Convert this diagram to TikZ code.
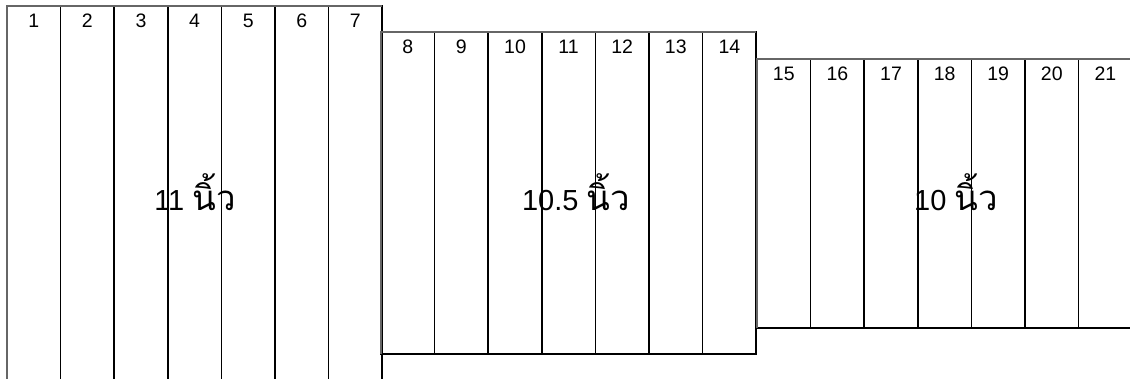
\documentclass[tikz,border=0pt]{standalone}
\usepackage{fontspec}
\setmainfont{Liberation Sans}
\newfontfamily\thaifont[Script=Thai,Scale=1.2]{Loma}
\usetikzlibrary{positioning}

\tikzset{
  strip/.style={draw=black, line width=1.7pt},
  outline/.style={draw=black!60, line width=1.9pt},
  numlabel/.style={font=\fontsize{19.5}{22}\selectfont, inner sep=0pt},
  sizelabel/.style={font=\fontsize{29}{32}\selectfont, inner sep=0pt}
}

\begin{document}
\begin{tikzpicture}[x=1pt,y=-1pt]
\def\w{53.6}
\useasboundingbox (0,0) rectangle (1130,378);
\clip (0,0) rectangle (1130,378);
\fill[white] (0,0) rectangle (1130,378);

% three groups of seven strips: index/left/top/bottom
\foreach \g/\gx/\gt/\gb in {0/7/6/400, 1/381/32/354, 2/757/59/328}{
  \foreach \i in {1,...,7}{
    \pgfmathtruncatemacro{\n}{\g*7+\i}
    \draw[strip] ({\gx+(\i-1)*\w},\gt) rectangle ({\gx+\i*\w},\gb);
    \node[numlabel] (num\n) at ({\gx+(\i-0.5)*\w},{\gt+15}) {\n};
  }
  \draw[outline] (\gx,\gb) -- (\gx,\gt) -- ({\gx+7*\w},\gt);
}

% widths
\node[sizelabel] (wide) at (195,192) {11 {\thaifont นิ้ว}};
\node[sizelabel] (mid) at (576,192) {10.5 {\thaifont นิ้ว}};
\node[sizelabel] (narrow) at (956,192) {10 {\thaifont นิ้ว}};
\end{tikzpicture}
\end{document}
